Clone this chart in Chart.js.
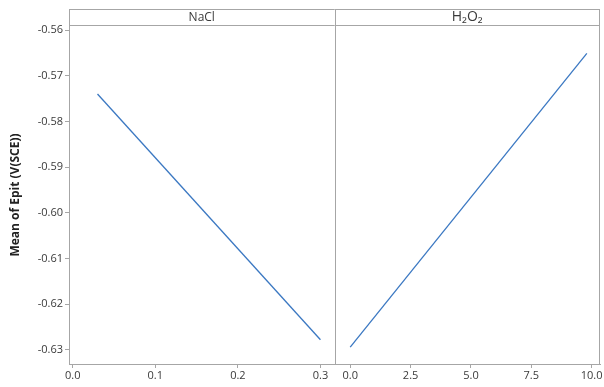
<!DOCTYPE html>
<html lang="en">
<head>
  <meta charset="UTF-8">
  <title>Main effects plot for Epit</title>
  <script src="https://cdn.jsdelivr.net/npm/chart.js"></script>
  <style>
    body { margin: 0; background: #fff; }
    #wrap { position: relative; width: 604px; height: 387px; }
  </style>
</head>
<body>
<div id="wrap"><canvas id="chart" width="604" height="387"></canvas></div>
<script>
  // data
  const naclLevels = [0.03, 0.3];
  const naclMeans = [-0.5740, -0.6278];
  const h2o2Levels = [0, 9.8];
  const h2o2Means = [-0.6294, -0.5651];

  const naclTicks = [0.0, 0.1, 0.2, 0.3];
  const h2o2Ticks = [0.0, 2.5, 5.0, 7.5, 10.0];
  const yTicks = [-0.56, -0.57, -0.58, -0.59, -0.60, -0.61, -0.62, -0.63];

  const panelNames = ['NaCl', 'H\u2082O\u2082'];
  const yTitle = 'Mean of Epit (V(SCE))';

  const frameColor = '#a6a6a6';
  const lineColor = '#3b78c2';
  const textColor = '#3a3a3a';
  const tickFont = { family: 'Open Sans', size: 11 };

  // header strip above each panel + right border + divider
  const panelFrame = {
    id: 'panelFrame',
    afterDraw(chart) {
      const ctx = chart.ctx;
      const area = chart.chartArea;
      const x1 = chart.scales.x1;
      const headTop = 9;
      ctx.save();
      ctx.strokeStyle = frameColor;
      ctx.lineWidth = 1;
      ctx.beginPath();
      ctx.moveTo(area.left, headTop + 0.5);
      ctx.lineTo(area.right, headTop + 0.5);
      ctx.moveTo(area.left, area.top - 0.5);
      ctx.lineTo(area.right, area.top - 0.5);
      ctx.moveTo(area.left + 0.5, headTop);
      ctx.lineTo(area.left + 0.5, area.top);
      ctx.moveTo(area.right - 0.5, headTop);
      ctx.lineTo(area.right - 0.5, area.bottom);
      ctx.moveTo(Math.round(x1.right) + 0.5, headTop);
      ctx.lineTo(Math.round(x1.right) + 0.5, area.bottom);
      ctx.stroke();

      ctx.fillStyle = textColor;
      ctx.textAlign = 'center';
      ctx.textBaseline = 'middle';
      const midY = (headTop + area.top) / 2;
      ctx.font = '12px "Open Sans"';
      ctx.fillText(panelNames[0], (area.left + x1.right) / 2, midY);
      ctx.font = '14px "Open Sans"';
      ctx.fillText(panelNames[1], (x1.right + area.right) / 2, midY);
      ctx.restore();
    }
  };

  function xAxis(lo, hi, ticks, digits) {
    return {
      type: 'linear',
      position: 'bottom',
      stack: 'panels',
      stackWeight: 1,
      min: lo,
      max: hi,
      afterBuildTicks: s => { s.ticks = ticks.map(v => ({ value: v })); },
      afterFit: s => { s.height = 23; s.paddingLeft = 0; s.paddingRight = 0; },
      grid: { drawOnChartArea: false, drawTicks: true, tickLength: 4, color: frameColor },
      border: { display: true, color: frameColor },
      ticks: {
        font: tickFont,
        color: textColor,
        padding: 1,
        maxRotation: 0,
        callback: v => Number(v).toFixed(digits)
      }
    };
  }

  new Chart(document.getElementById('chart'), {
    type: 'line',
    data: {
      datasets: [
        {
          label: 'NaCl',
          xAxisID: 'x1',
          data: naclLevels.map((x, i) => ({ x: x, y: naclMeans[i] })),
          borderColor: lineColor,
          borderWidth: 1.3,
          pointRadius: 0,
          fill: false
        },
        {
          label: 'H2O2',
          xAxisID: 'x2',
          data: h2o2Levels.map((x, i) => ({ x: x, y: h2o2Means[i] })),
          borderColor: lineColor,
          borderWidth: 1.3,
          pointRadius: 0,
          fill: false
        }
      ]
    },
    options: {
      responsive: false,
      animation: false,
      layout: { padding: { top: 26, right: 4, left: 0, bottom: 0 } },
      plugins: { legend: { display: false }, tooltip: { enabled: false } },
      scales: {
        x1: xAxis(-0.0045, 0.317, naclTicks, 1),
        x2: xAxis(-0.651, 10.345, h2o2Ticks, 1),
        y: {
          type: 'linear',
          min: -0.6331,
          max: -0.5591,
          afterBuildTicks: s => { s.ticks = yTicks.map(v => ({ value: v })); },
          afterFit: s => { s.width = 69; s.paddingTop = 0; s.paddingBottom = 0; },
          grid: { drawOnChartArea: false, drawTicks: true, tickLength: 4, color: frameColor },
          border: { display: true, color: frameColor },
          ticks: {
            font: tickFont,
            color: textColor,
            padding: 2,
            callback: v => Number(v).toFixed(2)
          },
          title: {
            display: true,
            text: yTitle,
            color: '#222',
            font: { family: 'Open Sans', size: 12, weight: 'bold' },
            padding: { top: 8, bottom: 2 }
          }
        }
      }
    },
    plugins: [panelFrame]
  });
</script>
</body>
</html>
